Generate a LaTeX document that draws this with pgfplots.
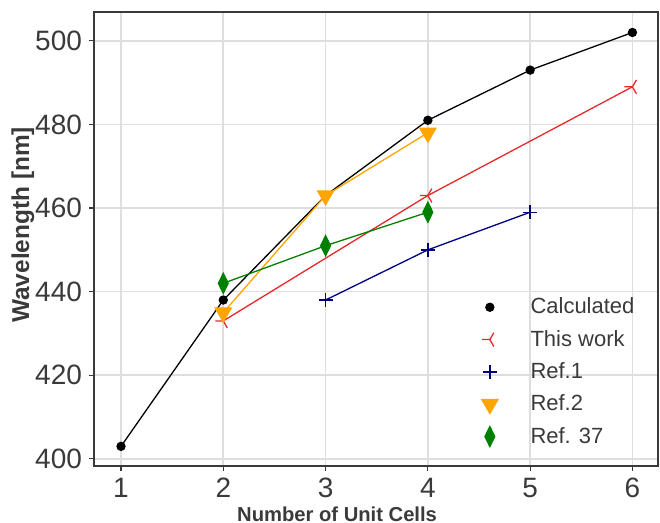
\documentclass[border=0pt]{standalone}
\usepackage{fontspec}
\setmainfont{Liberation Sans}
\usepackage{pgfplots}
\pgfplotsset{compat=1.18}
\definecolor{axgray}{HTML}{3A3A3A}
\definecolor{gridgray}{HTML}{DEDEDE}
\definecolor{myred}{HTML}{E8282B}
\definecolor{mynavy}{HTML}{000080}
\definecolor{myorange}{HTML}{FFA500}
\definecolor{mygreen}{HTML}{008000}
\pgfdeclareplotmark{trileft}{%
  \pgfpathmoveto{\pgfpointorigin}\pgfpathlineto{\pgfpoint{-\pgfplotmarksize}{0pt}}%
  \pgfpathmoveto{\pgfpointorigin}\pgfpathlineto{\pgfpointpolar{60}{\pgfplotmarksize}}%
  \pgfpathmoveto{\pgfpointorigin}\pgfpathlineto{\pgfpointpolar{-60}{\pgfplotmarksize}}%
  \pgfusepathqstroke}
\begin{document}
\begin{tikzpicture}
\begin{axis}[
  scale only axis,
  width=282pt, height=227pt,
  xmin=0.736, xmax=6.25, ymin=398.3, ymax=506.9,
  xtick={1,2,3,4,5,6},
  ytick={400,420,440,460,480,500},
  xtick pos=lower, ytick pos=left,
  tick align=outside, major tick length=2.5pt,
  tick style={axgray, line width=0.6pt},
  axis line style={axgray, line width=0.6pt},
  grid=major, grid style={gridgray, line width=0.8pt},
  /pgf/number format/assume math mode=true,
  tick label style={font=\fontsize{14}{16}\selectfont, text=axgray},
  every axis y label/.style={at={(axis description cs:-0.126,0.531)}, rotate=90, anchor=center, font=\fontsize{12.2}{14}\selectfont\bfseries, text=axgray},
  every axis x label/.style={at={(axis description cs:0.431,-0.1057)}, anchor=center, font=\fontsize{10.1}{12}\selectfont\bfseries, text=axgray},
  xlabel={Number of Unit Cells},
  ylabel={Wavelength [nm]},
  legend cell align=left,
  legend style={draw=none, fill=none, at={(axis description cs:0.661,0.389)}, anchor=north west,
    font=\fontsize{11}{13}\selectfont, text=axgray, row sep=2.7pt},
  legend image code/.code={\path (-8pt,0pt) (18pt,0pt); \draw[#1,only marks] plot coordinates {(0pt,0pt)};},
]
\addplot[black, line width=0.65pt, mark=*, mark size=2pt] coordinates {(1,403) (2,438) (3,463) (4,481) (5,493) (6,502)};
\addlegendentry{Calculated}
\addplot[myred, line width=0.65pt, mark=trileft, mark size=4pt, mark options={line width=0.65pt}] coordinates {(2,433) (4,463) (6,489)};
\addlegendentry{This work}
\addplot[mynavy, line width=0.65pt, mark=+, mark size=3.5pt, mark options={line width=0.65pt}] coordinates {(3,438) (4,450) (5,459)};
\addlegendentry{Ref.1}
\addplot[myorange, line width=0.65pt, mark=triangle*, mark size=4.6pt, mark options={rotate=180}] coordinates {(2,435) (3,463) (4,478)};
\addlegendentry{Ref.2}
\addplot[mygreen, line width=0.65pt, mark=diamond*, mark size=5pt, mark options={xscale=0.65}] coordinates {(2,442) (3,451) (4,459)};
\addlegendentry{Ref. 37}
\end{axis}
\pgfresetboundingbox
\path[use as bounding box] ([xshift=-47pt,yshift=-28.5pt]current axis.south west) rectangle ([xshift=1pt,yshift=6pt]current axis.north east);
\end{tikzpicture}
\end{document}
